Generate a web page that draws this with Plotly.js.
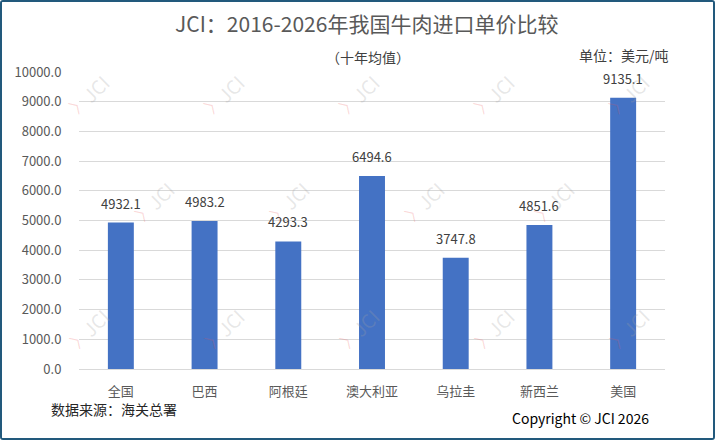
<!DOCTYPE html>
<html>
<head>
<meta charset="utf-8">
<script src="https://cdn.plot.ly/plotly-3.0.1.min.js"></script>
<style>
html,body{margin:0;padding:0;background:#fff;}
#wrap{width:715px;height:440px;box-sizing:border-box;border:2px solid #22597C;border-radius:3px;overflow:hidden;}
#chart{width:711px;height:436px;}
</style>
</head>
<body>
<div id="wrap"><div id="chart"></div></div>
<script>
const categories = ["全国","巴西","阿根廷","澳大利亚","乌拉圭","新西兰","美国"];
const unitPrices = [4932.1, 4983.2, 4293.3, 6494.6, 3747.8, 4851.6, 9135.1];
const yTickValues = [0,1000,2000,3000,4000,5000,6000,7000,8000,9000,10000];

const FONT = '"Noto Sans CJK SC", "Noto Sans", sans-serif';
// page pixel -> paper coordinates (plot area: x 79..665, y 72..369)
const PX = x => (x - 79) / 586;
const PY = y => (369 - y) / 297;

const annotations = [];
// data labels
categories.forEach((c, i) => {
  annotations.push({
    x: c, y: unitPrices[i], xref: 'x', yref: 'y',
    text: unitPrices[i].toFixed(1), showarrow: false,
    xanchor: 'center', yanchor: 'bottom', yshift: 8,
    font: {family: FONT, size: 13, color: '#404040'}
  });
});
// watermarks
const marks = [[95,88],[230,88],[365,88],[500,88],[635,88],
               [160,195],[295,195],[430,195],[560,195],
               [95,322],[230,322],[365,322],[500,322],[635,322]];
marks.forEach(([mx,my]) => {
  annotations.push({x: PX(mx), y: PY(my), xref:'paper', yref:'paper', showarrow:false,
    xanchor:'center', yanchor:'middle',
    text:'JCI', textangle:-45, font:{family:FONT, size:19, color:'rgba(160,160,160,0.25)'}});
  annotations.push({x: PX(mx-17), y: PY(my+16), xref:'paper', yref:'paper', showarrow:false,
    xanchor:'center', yanchor:'middle',
    text:'〉', textangle:-45, font:{family:FONT, size:17, color:'rgba(235,80,80,0.22)'}});
});
// texts
function note(x, y, text, xa, size, color) {
  annotations.push({x: PX(x), y: PY(y), xref:'paper', yref:'paper', showarrow:false,
    xanchor: xa, yanchor: 'middle', text: text, font: {family: FONT, size: size, color: color}});
}
note(368, 57, '（十年均值）', 'center', 14, '#404040');
note(671, 55, '单位：美元/吨', 'right', 14, '#404040');
note(49, 409, '数据来源：海关总署', 'left', 14, '#262626');
note(651, 418, 'Copyright © JCI 2026', 'right', 14, '#000000');

const data = [{
  type: 'bar',
  x: categories,
  y: unitPrices,
  marker: {color: '#4472C4', line: {color: '#4472C4', width: 0}},
  hoverinfo: 'none'
}];

const layout = {
  width: 711, height: 436,
  margin: {l: 77, r: 48, t: 70, b: 69},
  paper_bgcolor: '#ffffff', plot_bgcolor: '#ffffff',
  bargap: 0.69,
  showlegend: false,
  title: {text: 'JCI：2016-2026年我国牛肉进口单价比较', x: 0.513, xanchor: 'center', y: 0.948, yanchor: 'middle',
          font: {family: FONT, size: 21, color: '#595959'}},
  xaxis: {
    type: 'category', showgrid: false, showline: false, zeroline: false,
    ticks: 'outside', ticklen: 10, tickcolor: 'rgba(0,0,0,0)',
    tickfont: {family: FONT, size: 13, color: '#595959'}
  },
  yaxis: {
    range: [0, 10000], tickvals: yTickValues, ticktext: yTickValues.map(v => v.toFixed(1)),
    showgrid: true, gridcolor: '#D9D9D9', gridwidth: 1,
    zeroline: true, zerolinecolor: '#D9D9D9', zerolinewidth: 1, showline: false,
    ticks: 'outside', ticklen: 14, tickcolor: 'rgba(0,0,0,0)',
    tickfont: {family: FONT, size: 13, color: '#595959'}
  },
  annotations: annotations
};

Plotly.newPlot('chart', data, layout, {displayModeBar: false, staticPlot: true});
</script>
</body>
</html>
